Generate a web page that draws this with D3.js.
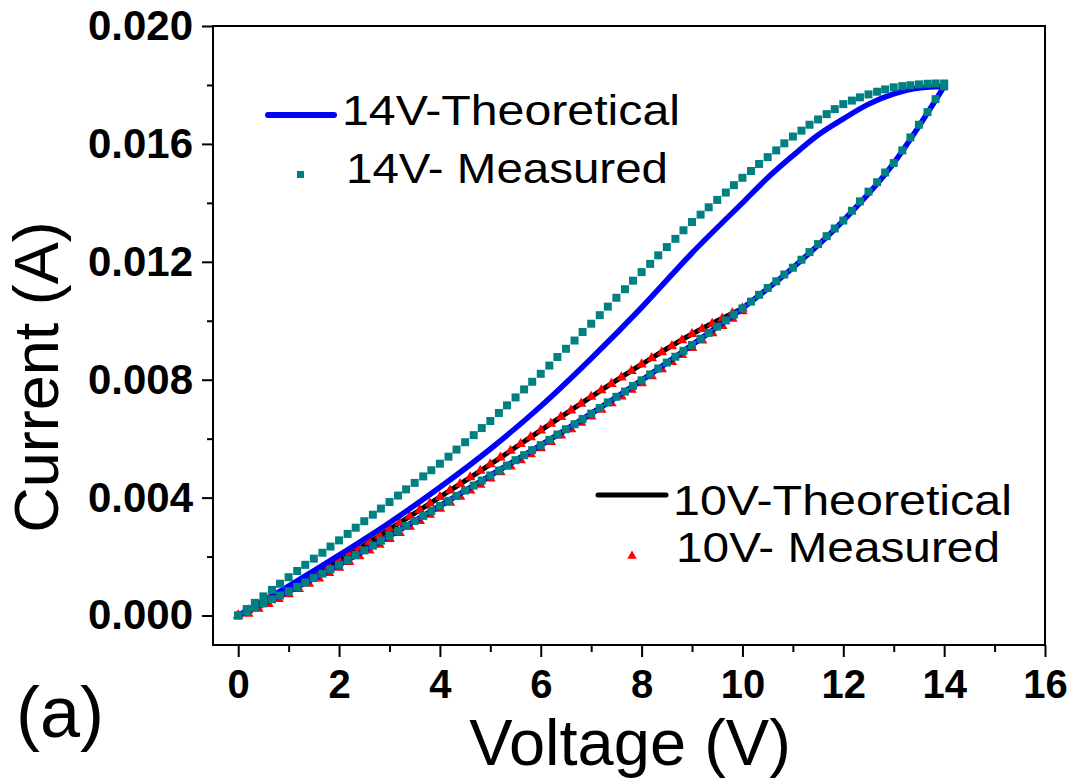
<!DOCTYPE html>
<html>
<head>
<meta charset="utf-8">
<script src="https://cdn.jsdelivr.net/npm/d3@7"></script>
<style>
  body { margin: 0; background: #fff; }
  svg text { font-family: "Liberation Sans", Arial, sans-serif; }
</style>
</head>
<body>
<div id="chart"></div>
<script>
// --- data (current in mA, voltage in V) ---

// theoretical curves, anchor points
const t14RiseV = [0, 1, 2, 3, 4, 5, 6, 7, 8, 9, 10, 11, 12, 13, 13.5, 14];
const t14RiseI = [0, 0.82, 1.72, 2.7, 3.72, 4.75, 5.78, 6.85, 7.98, 9.18, 10.42, 11.8, 13.4, 15.35, 16.6, 17.95];
const t14FallV = [0, 1, 2, 3, 4, 5, 6, 7, 8, 9, 10, 10.5, 11, 11.5, 12, 12.5, 13, 13.5, 14];
const t14FallI = [0, 1.0, 2.05, 3.15, 4.35, 5.65, 7.1, 8.72, 10.45, 12.3, 14.0, 14.85, 15.6, 16.3, 16.85, 17.35, 17.7, 17.9, 17.95];

const t10RiseV = [0, 1, 2, 3, 4, 5, 6, 7, 8, 9, 10];
const t10RiseI = [0, 0.82, 1.72, 2.7, 3.72, 4.75, 5.78, 6.85, 7.98, 9.18, 10.42];
const t10FallV = [0, 1, 2, 3, 4, 5, 6, 7, 8, 9, 9.5, 10];
const t10FallI = [0, 0.88, 1.85, 2.92, 4.02, 5.13, 6.28, 7.42, 8.52, 9.55, 10.0, 10.42];

// measured 14V
const m14V = [0, 0.17, 0.33, 0.5, 0.67, 0.83, 1, 1.17, 1.33, 1.5, 1.67, 1.83, 2, 2.17, 2.33, 2.5, 2.67, 2.83,
  3, 3.17, 3.33, 3.5, 3.67, 3.83, 4, 4.17, 4.33, 4.5, 4.67, 4.83, 5, 5.17, 5.33, 5.5, 5.67, 5.83,
  6, 6.17, 6.33, 6.5, 6.67, 6.83, 7, 7.17, 7.33, 7.5, 7.67, 7.83, 8, 8.17, 8.33, 8.5, 8.67, 8.83,
  9, 9.17, 9.33, 9.5, 9.67, 9.83, 10, 10.17, 10.33, 10.5, 10.67, 10.83, 11, 11.17, 11.33, 11.5, 11.67, 11.83,
  12, 12.17, 12.33, 12.5, 12.67, 12.83, 13, 13.17, 13.33, 13.5, 13.67, 13.83, 14];
const m14Rise = [0, 0.14, 0.27, 0.41, 0.55, 0.68, 0.82, 0.97, 1.12, 1.27, 1.42, 1.57, 1.72,
  1.88, 2.05, 2.21, 2.37, 2.54, 2.70, 2.87, 3.04, 3.21, 3.38, 3.55, 3.72,
  3.89, 4.06, 4.24, 4.41, 4.58, 4.75, 4.92, 5.09, 5.27, 5.44, 5.61, 5.78,
  5.96, 6.14, 6.32, 6.49, 6.67, 6.85, 7.04, 7.23, 7.42, 7.60, 7.79, 7.98,
  8.18, 8.38, 8.58, 8.78, 8.98, 9.18, 9.39, 9.59, 9.80, 10.01, 10.21, 10.42,
  10.65, 10.88, 11.11, 11.34, 11.57, 11.80, 12.07, 12.33, 12.60, 12.87, 13.13, 13.40,
  13.73, 14.05, 14.38, 14.70, 15.03, 15.35, 15.78, 16.22, 16.65, 17.08, 17.52, 17.95];
const m14Fall = [0, 0.22, 0.43, 0.65, 0.87, 1.08, 1.30, 1.51, 1.72, 1.93, 2.13, 2.34, 2.55,
  2.77, 2.98, 3.20, 3.42, 3.63, 3.85, 4.07, 4.28, 4.50, 4.72, 4.93, 5.15,
  5.39, 5.63, 5.88, 6.12, 6.36, 6.60, 6.87, 7.13, 7.40, 7.67, 7.93, 8.20,
  8.48, 8.77, 9.05, 9.33, 9.62, 9.90, 10.19, 10.48, 10.78, 11.07, 11.36, 11.65,
  11.93, 12.22, 12.50, 12.78, 13.07, 13.35, 13.60, 13.85, 14.10, 14.35, 14.60, 14.85,
  15.08, 15.32, 15.55, 15.78, 16.02, 16.25, 16.45, 16.65, 16.83, 17.01, 17.18, 17.35,
  17.47, 17.58, 17.68, 17.77, 17.85, 17.92, 17.96, 17.99, 18.02, 18.04, 18.05, 18.05];

// measured 10V
const m10V = [0, 0.2, 0.4, 0.6, 0.8, 1, 1.2, 1.4, 1.6, 1.8, 2, 2.2, 2.4, 2.6, 2.8, 3, 3.2, 3.4, 3.6, 3.8,
  4, 4.2, 4.4, 4.6, 4.8, 5, 5.2, 5.4, 5.6, 5.8, 6, 6.2, 6.4, 6.6, 6.8, 7, 7.2, 7.4, 7.6, 7.8,
  8, 8.2, 8.4, 8.6, 8.8, 9, 9.2, 9.4, 9.6, 9.8, 10];
const m10Rise = [0, 0.06, 0.23, 0.39, 0.56, 0.72, 0.90, 1.08, 1.26, 1.44, 1.62, 1.82, 2.01, 2.21, 2.40, 2.60,
  2.80, 3.01, 3.21, 3.42, 3.62, 3.83, 4.03, 4.24, 4.44, 4.65, 4.86, 5.06, 5.27, 5.47, 5.68,
  5.89, 6.11, 6.32, 6.54, 6.75, 6.98, 7.20, 7.43, 7.66, 7.88, 8.12, 8.36, 8.60, 8.84, 9.08,
  9.33, 9.58, 9.82, 10.07, 10.32];
const m10Fall = [0, 0.18, 0.35, 0.53, 0.70, 0.88, 1.07, 1.27, 1.46, 1.66, 1.85, 2.06, 2.28, 2.49, 2.71, 2.92,
  3.14, 3.36, 3.58, 3.80, 4.02, 4.24, 4.46, 4.69, 4.91, 5.13, 5.36, 5.59, 5.82, 6.05, 6.28,
  6.51, 6.74, 6.96, 7.19, 7.42, 7.64, 7.86, 8.08, 8.30, 8.52, 8.73, 8.93, 9.14, 9.34, 9.55,
  9.72, 9.90, 10.07, 10.25, 10.42];

const xTicks = [0, 2, 4, 6, 8, 10, 12, 14, 16];
const yTicks = [0, 0.004, 0.008, 0.012, 0.016, 0.020];
const legendA = ['14V-Theoretical', '14V- Measured'];
const legendB = ['10V-Theoretical', '10V- Measured'];

// --- layout ---
const W = 1073, H = 782;
const plotL = 213, plotR = 1045, plotT = 26, plotB = 645;

const svg = d3.select('#chart').append('svg')
  .attr('width', W).attr('height', H);

const x = d3.scaleLinear().domain([-0.5, 16]).range([plotL, plotR]);
const y = d3.scaleLinear().domain([-0.001, 0.020]).range([plotB, plotT]);

const pts = (vs, is) => vs.map((v, k) => ({ v: v, i: is[k] / 1000 }));

// frame
svg.append('rect')
  .attr('x', plotL).attr('y', plotT)
  .attr('width', plotR - plotL).attr('height', plotB - plotT)
  .attr('fill', 'none').attr('stroke', '#000').attr('stroke-width', 2);

// x axis
const xAxis = svg.append('g')
  .attr('transform', `translate(0, ${plotB})`)
  .call(d3.axisBottom(x).tickValues(xTicks).tickSize(12).tickPadding(13).tickFormat(d3.format('d')));
svg.append('g')
  .attr('transform', `translate(0, ${plotB})`)
  .call(d3.axisBottom(x).tickValues([1, 3, 5, 7, 9, 11, 13, 15]).tickSize(7).tickFormat(''));

// y axis
const yAxis = svg.append('g')
  .attr('transform', `translate(${plotL}, 0)`)
  .call(d3.axisLeft(y).tickValues(yTicks).tickSize(11).tickPadding(9).tickFormat(d3.format('.3f')));
svg.append('g')
  .attr('transform', `translate(${plotL}, 0)`)
  .call(d3.axisLeft(y).tickValues([0.002, 0.006, 0.010, 0.014, 0.018]).tickSize(6).tickFormat(''));

svg.selectAll('.domain').remove();
svg.selectAll('.tick line').attr('stroke', '#000').attr('stroke-width', 2);
xAxis.selectAll('text').attr('font-size', 40).attr('font-weight', 'bold').attr('fill', '#000');
yAxis.selectAll('text').attr('font-size', 42).attr('font-weight', 'bold').attr('fill', '#000');

// axis titles
svg.append('text')
  .attr('x', (plotL + plotR) / 2 + 1).attr('y', 765)
  .attr('text-anchor', 'middle').attr('font-size', 65)
  .text('Voltage (V)');

svg.append('text')
  .attr('transform', 'translate(58, 377) rotate(-90)')
  .attr('text-anchor', 'middle').attr('font-size', 63)
  .text('Current (A)');

svg.append('text')
  .attr('x', 16).attr('y', 737).attr('font-size', 72)
  .text('(a)');

// curves
const line = d3.line()
  .x(d => x(d.v))
  .y(d => y(d.i))
  .curve(d3.curveMonotoneX);

const drawLine = (data, color, width) => svg.append('path')
  .datum(data)
  .attr('d', line)
  .attr('fill', 'none')
  .attr('stroke', color)
  .attr('stroke-width', width)
  .attr('stroke-linecap', 'round')
  .attr('stroke-linejoin', 'round');

const square = d3.symbol().type(d3.symbolSquare).size(64);
const triangle = d3.symbol().type(d3.symbolTriangle).size(48);

const drawPts = (data, sym, color) => svg.append('g')
  .selectAll('path')
  .data(data)
  .enter()
  .append('path')
  .attr('d', sym)
  .attr('transform', d => `translate(${x(d.v)}, ${y(d.i)})`)
  .attr('fill', color);

// 10V theoretical (black)
drawLine(pts(t10RiseV, t10RiseI), '#000', 5);
drawLine(pts(t10FallV, t10FallI), '#000', 5);

// 10V measured (red triangles)
drawPts(pts(m10V, m10Rise), triangle, '#ff0000');
drawPts(pts(m10V, m10Fall), triangle, '#ff0000');

// 14V theoretical (blue)
drawLine(pts(t14RiseV, t14RiseI), '#0000ff', 5.5);
drawLine(pts(t14FallV, t14FallI), '#0000ff', 5.5);

// 14V measured (teal squares)
drawPts(pts(m14V, m14Rise), square, '#008080');
drawPts(pts(m14V, m14Fall), square, '#008080');

// legends
svg.append('line')
  .attr('x1', 268).attr('x2', 334).attr('y1', 115).attr('y2', 115)
  .attr('stroke', '#0000ff').attr('stroke-width', 6).attr('stroke-linecap', 'round');
svg.append('rect')
  .attr('x', 297).attr('y', 171).attr('width', 7).attr('height', 7)
  .attr('fill', '#008080');
svg.selectAll('.legA')
  .data(legendA)
  .enter()
  .append('text')
  .attr('class', 'legA')
  .attr('x', (d, k) => k === 0 ? 342 : 346)
  .attr('y', (d, k) => k === 0 ? 125 : 183)
  .attr('font-size', 42)
  .attr('textLength', (d, k) => k === 0 ? 338 : 322)
  .attr('lengthAdjust', 'spacingAndGlyphs')
  .text(d => d);

svg.append('line')
  .attr('x1', 598).attr('x2', 666).attr('y1', 495).attr('y2', 495)
  .attr('stroke', '#000').attr('stroke-width', 5).attr('stroke-linecap', 'round');
svg.append('path')
  .attr('d', d3.symbol().type(d3.symbolTriangle).size(38))
  .attr('transform', 'translate(632, 556)')
  .attr('fill', '#ff0000');
svg.selectAll('.legB')
  .data(legendB)
  .enter()
  .append('text')
  .attr('class', 'legB')
  .attr('x', (d, k) => k === 0 ? 673 : 676)
  .attr('y', (d, k) => k === 0 ? 515 : 562)
  .attr('font-size', 42)
  .attr('textLength', (d, k) => k === 0 ? 339 : 324)
  .attr('lengthAdjust', 'spacingAndGlyphs')
  .text(d => d);
</script>
</body>
</html>
